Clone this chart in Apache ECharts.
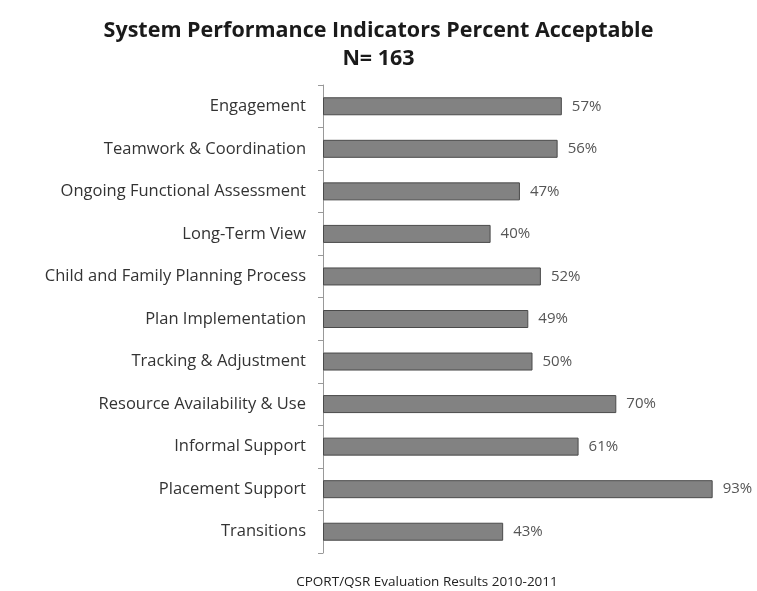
<!DOCTYPE html>
<html>
<head>
<meta charset="utf-8">
<script src="https://cdn.jsdelivr.net/npm/echarts@6/dist/echarts.min.js"></script>
<style>
  html, body { margin: 0; padding: 0; background: #fff; }
  #chart { width: 757px; height: 591px; }
</style>
</head>
<body>
<div id="chart"></div>
<script>
// categories, top to bottom
var categories = ['Engagement', 'Teamwork & Coordination', 'Ongoing Functional Assessment',
  'Long-Term View', 'Child and Family Planning Process', 'Plan Implementation',
  'Tracking & Adjustment', 'Resource Availability & Use', 'Informal Support',
  'Placement Support', 'Transitions'];
var percentAcceptable = [57, 56, 47, 40, 52, 49, 50, 70, 61, 93, 43];

var chart = echarts.init(document.getElementById('chart'));
var option = {
  backgroundColor: '#fff',
  animation: false,
  title: [{
    text: 'System Performance Indicators Percent Acceptable',
    left: 'center',
    top: 15,
    textStyle: { fontFamily: 'Open Sans', fontWeight: 'bold', fontSize: 21.5, color: '#1a1a1a' }
  }, {
    text: 'N= 163',
    left: 'center',
    top: 43,
    textStyle: { fontFamily: 'Open Sans', fontWeight: 'bold', fontSize: 21.5, color: '#1a1a1a' }
  }, {
    text: 'CPORT/QSR Evaluation Results 2010-2011',
    left: 422,
    top: 570,
    textAlign: 'center',
    textStyle: { fontFamily: 'Open Sans', fontWeight: 'normal', fontSize: 13.5, color: '#222' }
  }],
  grid: { left: 323, right: 15, top: 85, bottom: 38 },
  xAxis: {
    type: 'value',
    min: 0,
    max: 100,
    show: false
  },
  yAxis: {
    type: 'category',
    inverse: true,
    data: categories,
    axisLine: { show: true, lineStyle: { color: '#999', width: 1 } },
    axisTick: { show: true, length: 5, lineStyle: { color: '#999' } },
    axisLabel: { margin: 17, fontFamily: 'Open Sans', fontSize: 16.5, color: '#333' }
  },
  series: [{
    type: 'bar',
    data: percentAcceptable,
    barWidth: 18,
    itemStyle: { color: '#828282', borderColor: '#4a4a4a', borderWidth: 1 },
    label: {
      show: true,
      position: 'right',
      distance: 10,
      formatter: '{c}%',
      fontFamily: 'Open Sans',
      fontSize: 15,
      color: '#555'
    }
  }]
};
chart.setOption(option);
</script>
</body>
</html>
